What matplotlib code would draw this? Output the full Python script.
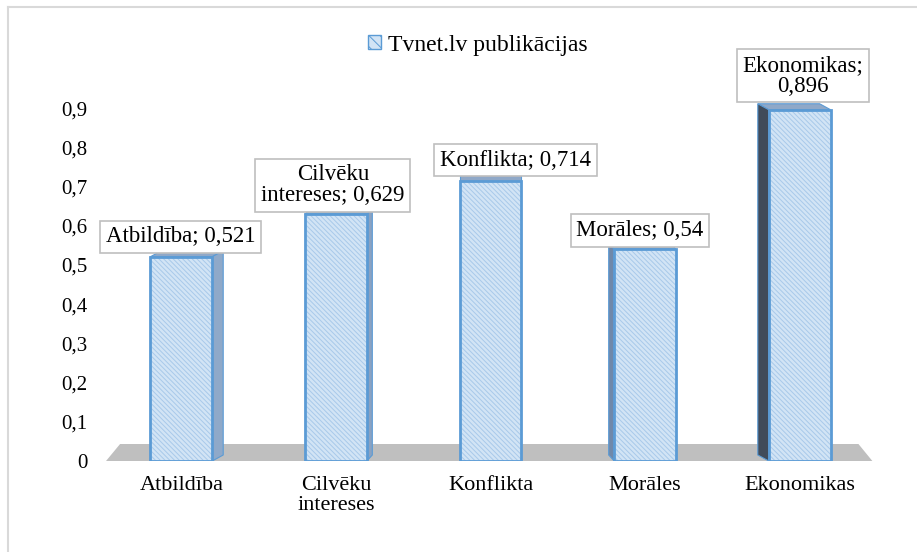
import matplotlib
matplotlib.use('Agg')
import matplotlib.pyplot as plt
from matplotlib.patches import Polygon, Patch
import numpy as np

plt.rcParams['font.family'] = ['Liberation Serif', 'DejaVu Serif']
plt.rcParams['hatch.linewidth'] = 0.7

# data
categories = ['Atbildība', 'Cilvēku\nintereses', 'Konflikta', 'Morāles', 'Ekonomikas']
values = [0.521, 0.629, 0.714, 0.54, 0.896]
value_texts = ['0,521', '0,629', '0,714', '0,54', '0,896']
yticks = [0, 0.1, 0.2, 0.3, 0.4, 0.5, 0.6, 0.7, 0.8, 0.9]
ytick_labels = ['0', '0,1', '0,2', '0,3', '0,4', '0,5', '0,6', '0,7', '0,8', '0,9']
series_name = 'Tvnet.lv publikācijas'

# label texts as laid out in the chart
label_heads = ['Atbildība;', 'Cilvēku\nintereses;', 'Konflikta;', 'Morāles;', 'Ekonomikas;']
label_sep = [' ', ' ', ' ', ' ', '\n']
# label offsets in pixels (dx, dy) from bar top
label_offsets = [(-1, 20), (-3, 29), (25, 21), (-5, 19), (3, 34)]

W, H = 917, 552
fig = plt.figure(figsize=(W / 100, H / 100), dpi=100)
ax = fig.add_axes([104 / W, 91 / H, (877 - 104) / W, 392 / H])

x = np.arange(len(values))
bw = 0.40
px = 1 / 154.75   # data units per pixel in x
py = 1 / 392      # data units per pixel in y

face = '#d2e4f5'
hatch_col = '#a8c9ea'
edge = '#5b9bd5'

# floor
floor = Polygon([(-0.487, 0), (4.47, 0), (4.38, 17 * py), (-0.396, 17 * py)],
                closed=True, facecolor='#bfbfbf', edgecolor='none', zorder=1)
ax.add_patch(floor)

# side and top faces (pseudo 3D)
side_cols = ['#8fa9c9', '#8aa2c2', '#8aa2c2', '#6f88aa', '#404b5a']
for i, v in enumerate(values):
    depth = (2 - i) * 5.5 * px
    dy = 6 * py
    xl, xr = x[i] - bw / 2, x[i] + bw / 2
    top = Polygon([(xl, v), (xr, v), (xr + depth, v + dy), (xl + depth, v + dy)],
                  closed=True, facecolor='#8fa8c8', edgecolor=edge, lw=0.8, zorder=2)
    ax.add_patch(top)
    if depth != 0:
        xs = xr if depth > 0 else xl
        side = Polygon([(xs, 0), (xs, v), (xs + depth, v + dy), (xs + depth, dy)],
                       closed=True, facecolor=side_cols[i], edgecolor=edge, lw=0.8, zorder=2)
        ax.add_patch(side)

# front faces
ax.bar(x, values, width=bw, color=face, edgecolor=hatch_col, hatch='\\' * 7, lw=0, zorder=3)
ax.bar(x, values, width=bw, fill=False, edgecolor=edge, lw=2, zorder=4)

# data labels
for i, v in enumerate(values):
    ax.annotate(label_heads[i] + label_sep[i] + value_texts[i],
                xy=(x[i], v), xytext=label_offsets[i], textcoords='offset pixels',
                ha='center', va='center', fontsize=16.5, linespacing=1.0,
                bbox=dict(boxstyle='square,pad=0.25', fc='white', ec='#bfbfbf', lw=1.2),
                zorder=6, annotation_clip=False)

ax.set_xlim(-0.5, 4.5)
ax.set_ylim(0, 1.0)
ax.set_yticks(yticks)
ax.set_yticklabels(ytick_labels, fontsize=15)
ax.set_xticks(x)
ax.set_xticklabels(categories, fontsize=16, linespacing=1.05)
ax.tick_params(axis='y', length=0, pad=12)
ax.tick_params(axis='x', length=0, pad=11)
for s in ax.spines.values():
    s.set_visible(False)
ax.patch.set_alpha(0)

# legend
handle = Patch(facecolor=face, edgecolor=edge, hatch='\\\\\\', lw=1)
fig.legend(handles=[handle], labels=[series_name], loc='center',
           bbox_to_anchor=(478 / W, 1 - 45 / H), frameon=False, fontsize=17,
           handlelength=0.55, handleheight=0.55, handletextpad=0.3)

# outer frame
fig.add_artist(plt.Line2D([8 / W, 8 / W], [0, 1 - 7 / H], color='#d9d9d9', lw=1.5))
fig.add_artist(plt.Line2D([8 / W, 1], [1 - 7 / H, 1 - 7 / H], color='#d9d9d9', lw=1.5))

fig.savefig('out.png', dpi=100)
